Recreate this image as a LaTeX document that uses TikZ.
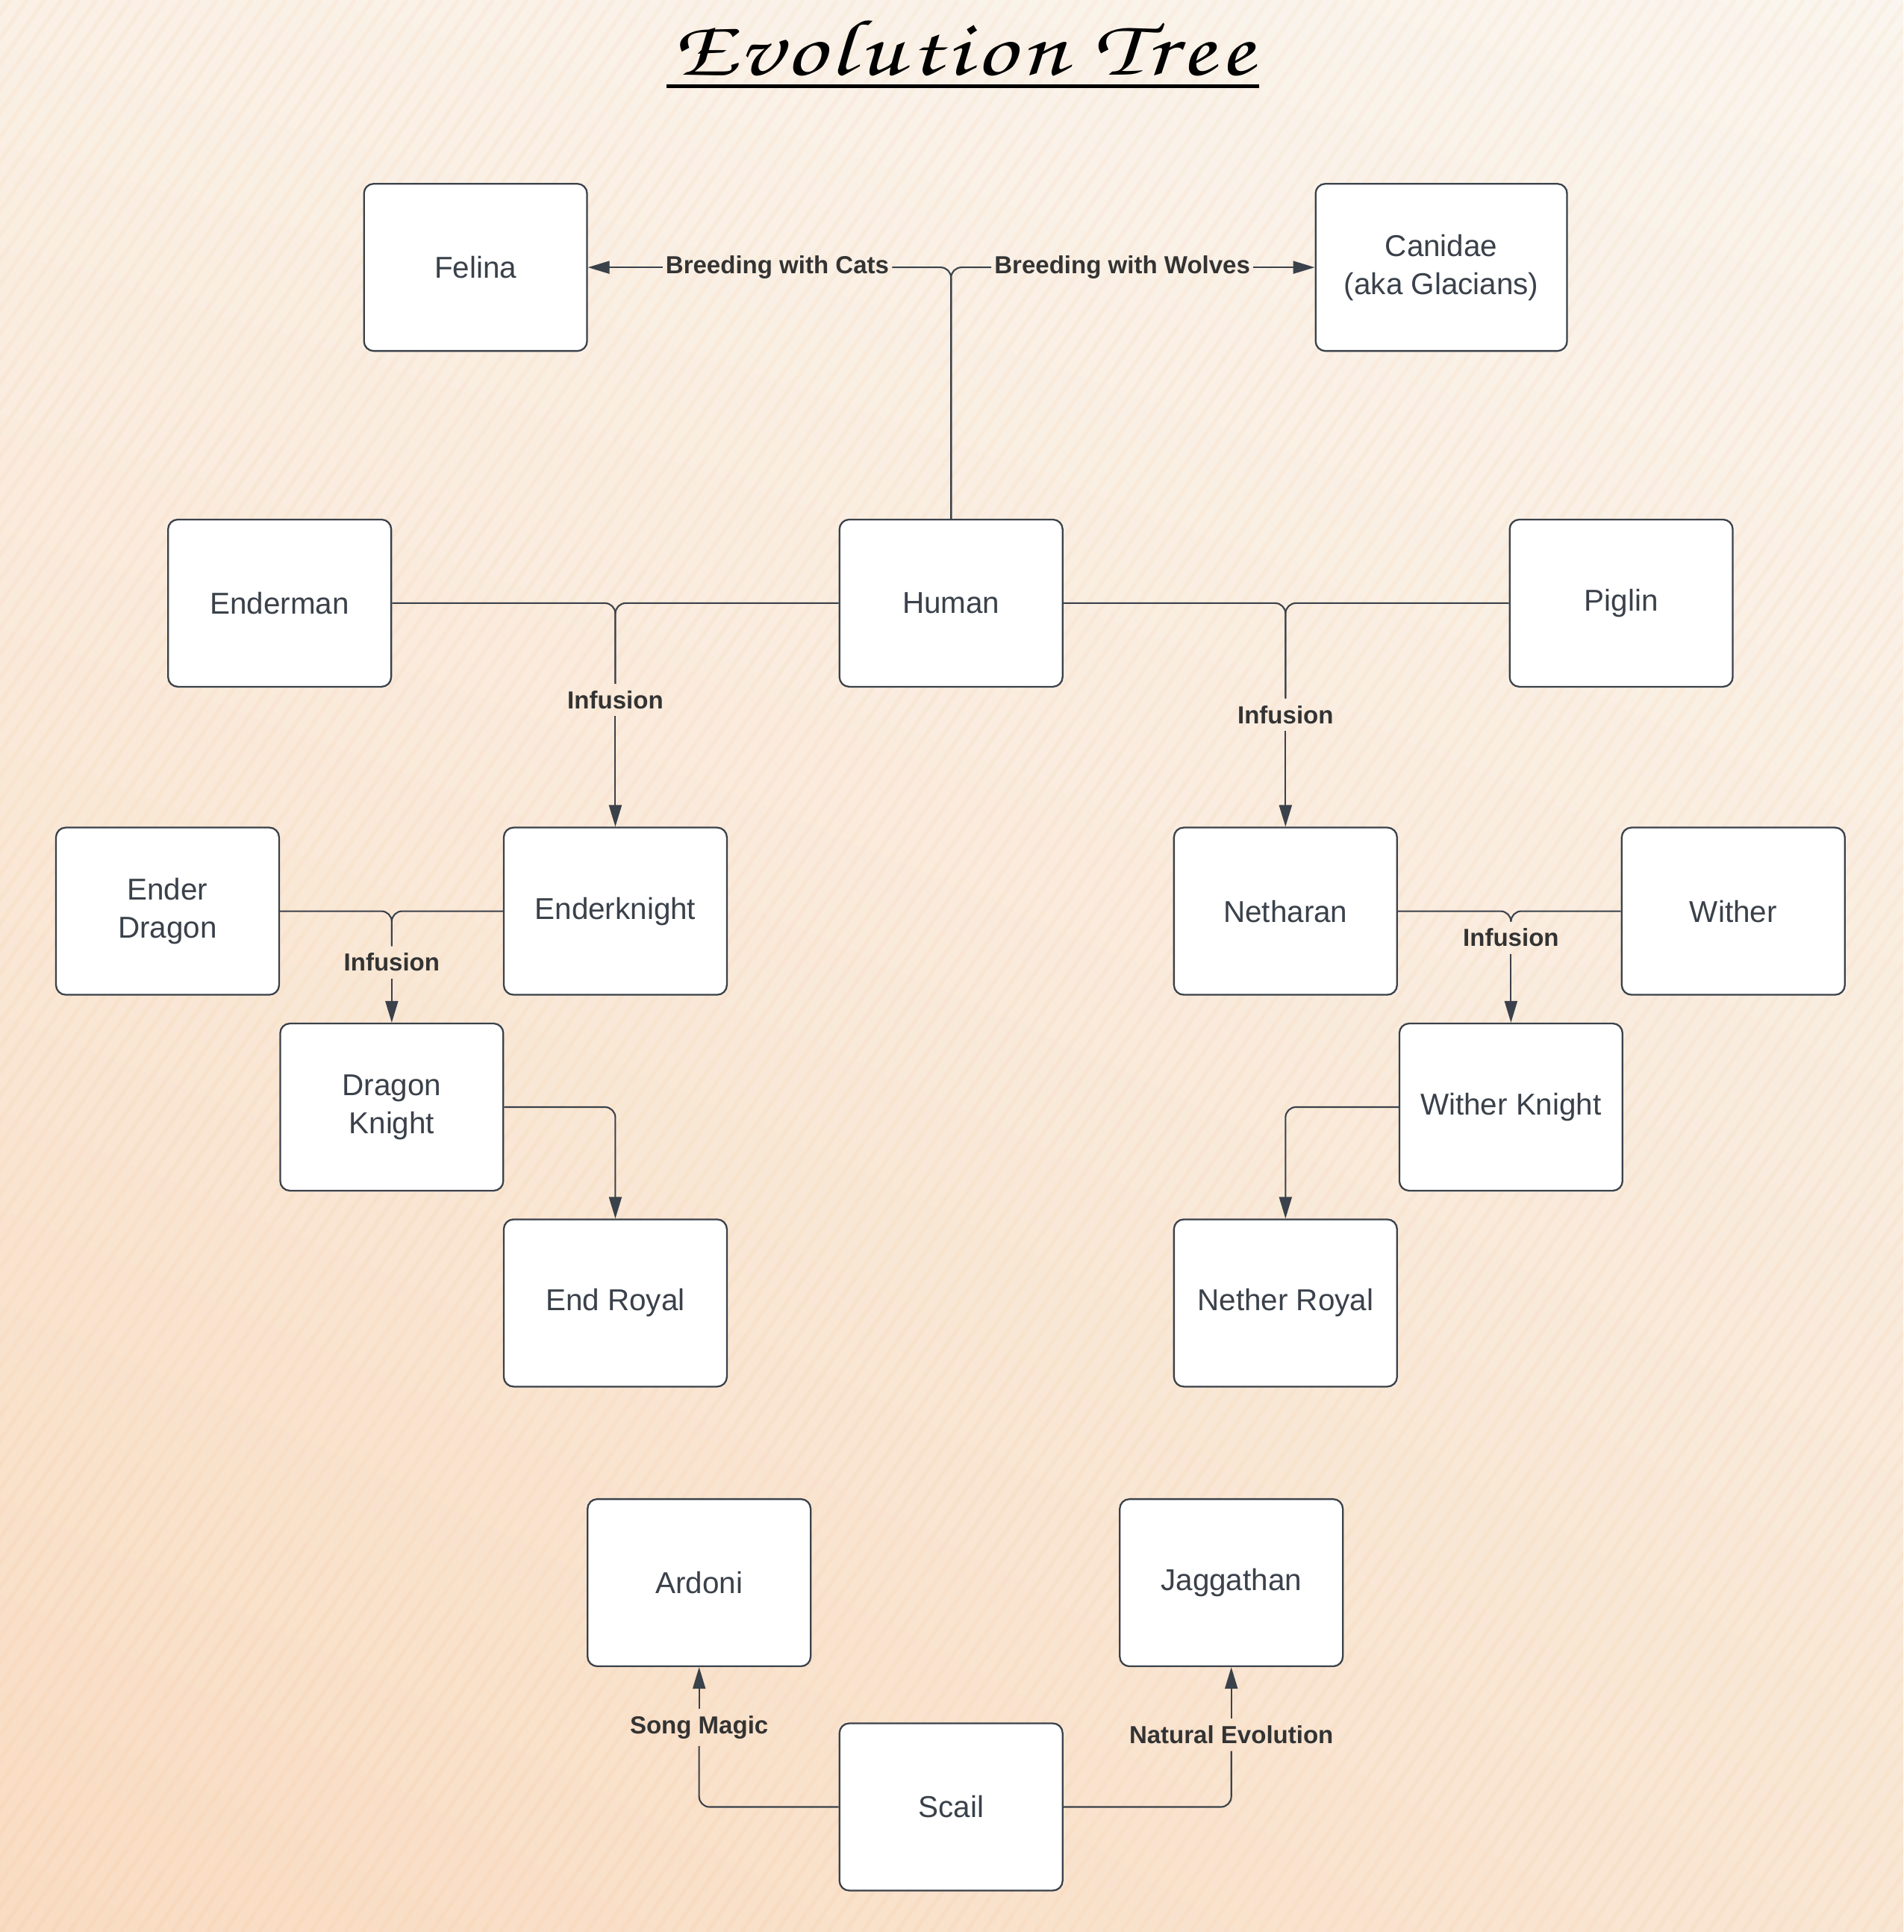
\documentclass[tikz,border=0pt]{standalone}
\usepackage{fontspec}
\setmainfont{Liberation Sans}
\newfontfamily\titlefont[LetterSpace=5]{texgyrechorus-mediumitalic.otf}
\usetikzlibrary{arrows.meta,shadings}
\definecolor{lineC}{HTML}{3A414A}
\definecolor{txtC}{HTML}{3A414A}
\definecolor{lblC}{HTML}{333333}
\definecolor{bgUL}{HTML}{FAF0E5}
\definecolor{bgUR}{HTML}{FAF5EE}
\definecolor{bgLL}{HTML}{F9DCC2}
\definecolor{bgLR}{HTML}{F9E6D3}
\definecolor{stripeC}{HTML}{F0B070}
\tikzset{
  box/.style={draw=lineC, line width=0.65pt, fill=white, rounded corners=1.3mm,
    minimum width=2.99cm, minimum height=2.24cm, inner sep=0pt, align=center,
    text=txtC, font=\fontsize{11.5}{14.5}\selectfont},
  lbl/.style={inner xsep=1pt, inner ysep=2.5pt, text=lblC,
    font=\bfseries\fontsize{9.4}{11}\selectfont},
  conn/.style={draw=lineC, line width=0.6pt, rounded corners=1.4mm},
  arr/.style={conn, -{Triangle[length=0.29cm, width=0.17cm]}},
}
\begin{document}
\begin{tikzpicture}[x=0.016505cm, y=-0.016505cm]
\useasboundingbox (0,0) rectangle (1545,1568);
\shade[upper left=bgUL, upper right=bgUR, lower left=bgLL, lower right=bgLR]
  (0,0) rectangle (1545,1568);
\begin{scope}
\clip (0,0) rectangle (1545,1568);
\foreach \i in {-1120,-1106,...,1560}
  \draw[stripeC, opacity=0.07, line width=1.6pt] (\i,1568) -- ++(1100,-1568);
\end{scope}

% title
\node[inner sep=0pt, anchor=base] (title) at (781,61) {\resizebox{7.8cm}{!}{\scalebox{1.25}[1]{\titlefont Evolution Tree}}};
\coordinate (ulA) at (541,70);
\coordinate (ulB) at (1022,70);
\draw[black, line width=1.5pt] (ulA) -- (ulB);

% nodes
\node[box] (felina) at (386,217) {Felina};
\node[box, minimum width=3.37cm] (canidae) at (1170,217) {Canidae\\(aka Glacians)};
\node[box] (enderman) at (227,489.5) {Enderman};
\node[box] (human) at (772,489.5) {Human};
\node[box] (piglin) at (1316,489.5) {Piglin};
\node[box] (enderdragon) at (136,739.5) {Ender\\Dragon};
\node[box] (enderknight) at (499.5,739.5) {Enderknight};
\node[box] (netharan) at (1043.5,739.5) {Netharan};
\node[box] (wither) at (1407,739.5) {Wither};
\node[box] (dragonknight) at (318,898.5) {Dragon\\Knight};
\node[box] (witherknight) at (1226.5,898.5) {Wither Knight};
\node[box] (endroyal) at (499.5,1057.5) {End Royal};
\node[box] (netherroyal) at (1043.5,1057.5) {Nether Royal};
\node[box] (ardoni) at (567.5,1284.5) {Ardoni};
\node[box] (jaggathan) at (999.5,1284.5) {Jaggathan};
\node[box] (scail) at (772,1466.5) {Scail};

% labels
\node[lbl] (cats) at (631,217) {Breeding with Cats};
\node[lbl] (wolves) at (911,217) {Breeding with Wolves};
\node[lbl] (inf1) at (499.5,568) {Infusion};
\node[lbl] (inf2) at (1043.5,580) {Infusion};
\node[lbl] (inf3) at (318,781) {Infusion};
\node[lbl] (inf4) at (1226.5,761) {Infusion};
\node[lbl] (song) at (567.5,1402) {Song Magic};
\node[lbl] (natural) at (999.5,1408) {Natural Evolution};

% connectors
\draw[conn] (human.north) |- (cats.east);
\draw[conn] (human.north) |- (wolves.west);
\draw[arr] (cats.west) -- (felina.east);
\draw[arr] (wolves.east) -- (canidae.west);

\draw[conn] (enderman.east) -| (inf1.north);
\draw[conn] (human.west) -| (inf1.north);
\draw[arr] (inf1.south) -- (enderknight.north);

\draw[conn] (human.east) -| (inf2.north);
\draw[conn] (piglin.west) -| (inf2.north);
\draw[arr] (inf2.south) -- (netharan.north);

\draw[conn] (enderdragon.east) -| (inf3.north);
\draw[conn] (enderknight.west) -| (inf3.north);
\draw[arr] (inf3.south) -- (dragonknight.north);

\draw[conn] (netharan.east) -| (inf4.north);
\draw[conn] (wither.west) -| (inf4.north);
\draw[arr] (inf4.south) -- (witherknight.north);

\draw[arr] (dragonknight.east) -| (endroyal.north);
\draw[arr] (witherknight.west) -| (netherroyal.north);

\draw[conn] (scail.west) -| (song.south);
\draw[arr] (song.north) -- (ardoni.south);
\draw[conn] (scail.east) -| (natural.south);
\draw[arr] (natural.north) -- (jaggathan.south);
\end{tikzpicture}
\end{document}
